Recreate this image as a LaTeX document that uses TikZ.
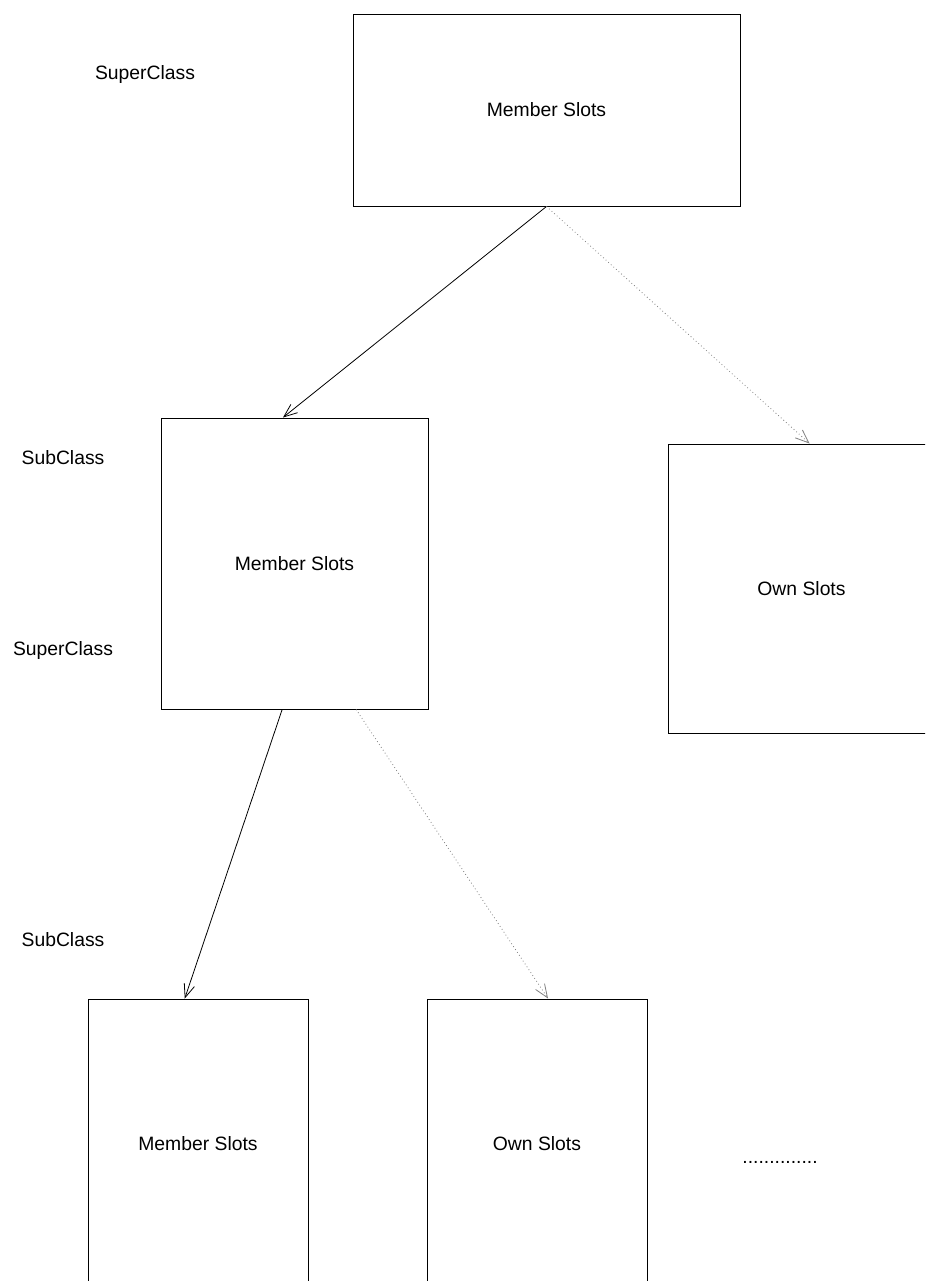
\documentclass[tikz,border=0pt]{standalone}
\usepackage{fontspec}
\setmainfont{Liberation Sans}
\usetikzlibrary{arrows.meta,calc}
\tikzset{
  slotbox/.style={draw, line width=0.7pt, inner sep=0pt, font=\fontsize{14.5}{17}\selectfont},
  tag/.style={font=\fontsize{14.5}{17}\selectfont, inner sep=0pt},
  inherit/.style={line width=0.6pt, -{Straight Barb[length=10pt,width=8pt]}},
  ownlink/.style={line width=0.6pt, gray, dotted, -{Straight Barb[length=10pt,width=8pt]}},
}
\begin{document}
\begin{tikzpicture}[x=0.75pt,y=-0.75pt]
\useasboundingbox (0,0) rectangle (925,1281);
\clip (0,0) rectangle (925,1281);

% class boxes (sizes in pixel units)
\node[slotbox, minimum width=387*0.75pt, minimum height=192*0.75pt] (sup) at (546.5,110) {Member Slots};
\node[slotbox, minimum width=267*0.75pt, minimum height=291*0.75pt] (sub) at (294.5,563.5) {Member Slots};
\node[slotbox, minimum width=267*0.75pt, minimum height=289*0.75pt] (own1) at (801.5,588.5) {Own Slots};
\node[slotbox, minimum width=220*0.75pt, minimum height=290*0.75pt] (sub2) at (198,1144) {Member Slots};
\node[slotbox, minimum width=220*0.75pt, minimum height=290*0.75pt] (own2) at (537,1144) {Own Slots};

% level labels
\node[tag] (l1) at (145,75) {SuperClass};
\node[tag] (l2) at (63,458) {SubClass};
\node[tag] (l3) at (63,650) {SuperClass};
\node[tag] (l4) at (63,940) {SubClass};
\node[tag] (more) at (780,1162) {..............};

% inheritance and own-slot links
\draw[inherit] (sup.south) -- ($(sub.north west)!0.457!(sub.north east)$);
\draw[ownlink] (sup.south) -- ($(own1.north west)!0.53!(own1.north east)$);
\draw[inherit] ($(sub.south west)!0.454!(sub.south east)$) -- ($(sub2.north west)!0.44!(sub2.north east)$);
\draw[ownlink] ($(sub.south west)!0.73!(sub.south east)$) -- ($(own2.north west)!0.55!(own2.north east)$);
\end{tikzpicture}
\end{document}
